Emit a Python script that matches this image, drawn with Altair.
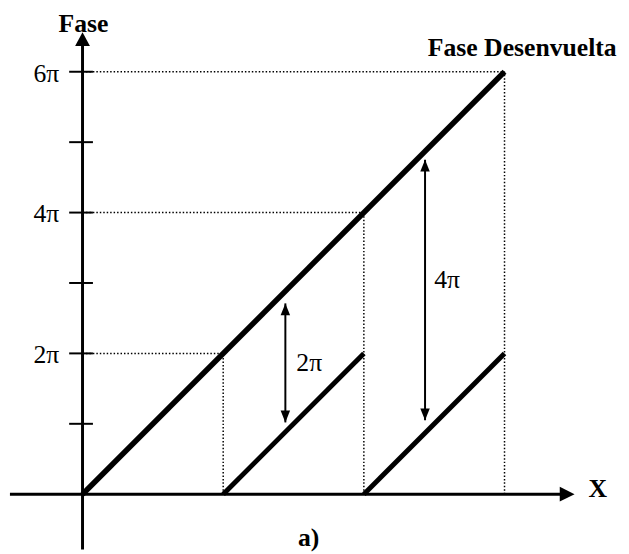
import altair as alt
import pandas as pd

# ---------------- data (phase in units of pi, x in arbitrary units) ----------------
unwrap_x = [0, 3]
unwrap_phase = [0, 6]

cross_x = [1, 2, 3]          # where the unwrapped phase reaches 2π, 4π, 6π
cross_phase = [2, 4, 6]

wrap_x0 = [1, 2]
wrap_x1 = [2, 3]
wrap_p0 = [0, 0]
wrap_p1 = [2, 2]

tick_values = [1, 2, 3, 4, 5, 6]
tick_labels = ["", "2π", "", "4π", "", "6π"]

jump_x = [1.442, 2.435]
jump_lo = [1.02, 1.05]
jump_hi = [2.71, 4.75]
jump_labels = ["2π", "4π"]
jump_label_x = [1.52, 2.50]
jump_label_y = [1.75, 2.93]

# ---------------- layout constants ----------------
W, H = 621, 546
PX_X, PX_Y = 142.5, 71.33
OX, OY = 75.5, 489
FONT = "Liberation Serif"

xs = alt.Scale(domain=[-OX / PX_X, (W - OX) / PX_X], nice=False, zero=False)
ys = alt.Scale(domain=[-(H - OY) / PX_Y, OY / PX_Y], nice=False, zero=False)


def X(f="x"):
    return alt.X(f + ":Q", scale=xs, axis=None)


def Y(f="y"):
    return alt.Y(f + ":Q", scale=ys, axis=None)


# dotted guides
guides = pd.DataFrame(
    [dict(x=0, x2=cx, y=cp, y2=cp) for cx, cp in zip(cross_x, cross_phase)]
    + [dict(x=cx, x2=cx, y=0, y2=cp) for cx, cp in zip(cross_x, cross_phase)]
)
guide_layer = alt.Chart(guides).mark_rule(
    color="black", strokeWidth=1.5, strokeDash=[1.5, 2]
).encode(x=X(), x2="x2:Q", y=Y(), y2="y2:Q")

# axes
axes = pd.DataFrame([
    dict(x=-0.516, x2=3.40, y=0, y2=0),
    dict(x=0, x2=0, y=-0.785, y2=6.37),
])
axis_layer = alt.Chart(axes).mark_rule(color="black", strokeWidth=3).encode(
    x=X(), x2="x2:Q", y=Y(), y2="y2:Q"
)

ticks = pd.DataFrame(dict(y=tick_values, lab=tick_labels))
ticks["x"] = -0.095
ticks["x2"] = 0.074
ticks["lx"] = -0.165
tick_layer = alt.Chart(ticks).mark_rule(color="black", strokeWidth=2).encode(
    x=X(), x2="x2:Q", y=Y()
)
tick_text = alt.Chart(ticks).mark_text(
    align="right", baseline="alphabetic", font=FONT, fontSize=26, dy=10, color="black"
).encode(x=X("lx"), y=Y(), text="lab:N")

# axis arrowheads
xhead = alt.Chart(pd.DataFrame(dict(x=[3.498], y=[0]))).mark_point(
    shape="M0,0L-2,-1L-2,1Z", size=225, filled=True, opacity=1, color="black", strokeWidth=0
).encode(x=X(), y=Y())
yhead = alt.Chart(pd.DataFrame(dict(x=[0], y=[6.561]))).mark_point(
    shape="M0,0L1.07,2L-1.07,2Z", size=196, filled=True, opacity=1, color="black", strokeWidth=0
).encode(x=X(), y=Y())

# unwrapped phase
unwrap_df = pd.DataFrame(dict(x=unwrap_x, y=unwrap_phase))
unwrap_layer = alt.Chart(unwrap_df).mark_line(color="black", strokeWidth=5.5).encode(
    x=X(), y=Y()
)

# wrapped phase segments
rows = []
for i, (a, b, p, q) in enumerate(zip(wrap_x0, wrap_x1, wrap_p0, wrap_p1)):
    rows += [dict(seg=i, x=a, y=p), dict(seg=i, x=b, y=q)]
wrap_layer = alt.Chart(pd.DataFrame(rows)).mark_line(color="black", strokeWidth=5).encode(
    x=X(), y=Y(), detail="seg:N"
)

# jump arrows
jumps = pd.DataFrame(dict(x=jump_x, lo=jump_lo, hi=jump_hi, lab=jump_labels,
                          lx=jump_label_x, ly=jump_label_y))
jump_line = alt.Chart(jumps).mark_rule(color="black", strokeWidth=2).encode(
    x=X(), y=Y("lo"), y2="hi:Q"
)
jump_up = alt.Chart(jumps).mark_point(
    shape="M0,0L0.8,2L-0.8,2Z", size=144, filled=True, opacity=1, color="black", strokeWidth=0
).encode(x=X(), y=Y("hi"))
jump_down = alt.Chart(jumps).mark_point(
    shape="M0,0L0.8,-2L-0.8,-2Z", size=144, filled=True, opacity=1, color="black", strokeWidth=0
).encode(x=X(), y=Y("lo"))
jump_text = alt.Chart(jumps).mark_text(
    align="left", baseline="alphabetic", font=FONT, fontSize=26, color="black"
).encode(x=X("lx"), y=Y("ly"), text="lab:N")

# titles / labels
labels = pd.DataFrame(dict(
    x=[0.007, 3.126, 3.663, 1.607],
    y=[6.561, 6.225, -0.042, -0.729],
    t=["Fase", "Fase Desenvuelta", "X", "a)"],
))
label_layer = alt.Chart(labels).mark_text(
    align="center", baseline="alphabetic", font=FONT, fontSize=26, fontWeight="bold", color="black"
).encode(x=X(), y=Y(), text="t:N")

chart = alt.layer(
    guide_layer, axis_layer, tick_layer, tick_text, xhead, yhead,
    unwrap_layer, wrap_layer, jump_line, jump_up, jump_down, jump_text, label_layer
).properties(
    width=W, height=H, autosize=alt.AutoSizeParams(type="none"), padding=0,
    background="white"
).configure_view(stroke=None)

chart.save("out.html", embed_options={"renderer": "svg", "actions": False})
